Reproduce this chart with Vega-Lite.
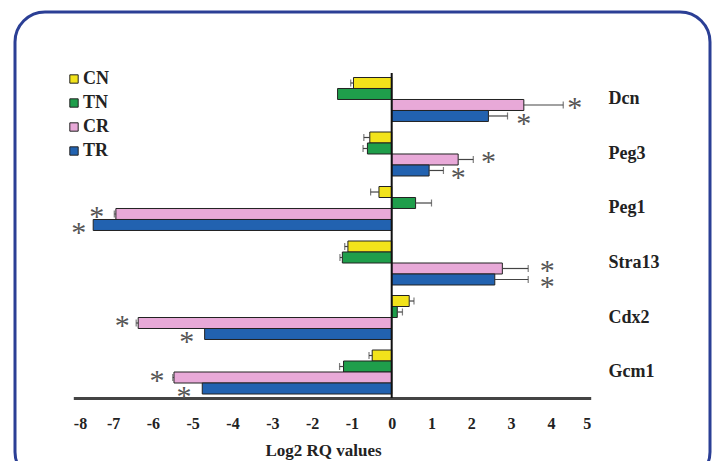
{
  "$schema": "https://vega.github.io/schema/vega-lite/v6.json",
  "width": 695,
  "height": 470,
  "autosize": {"type": "none"},
  "padding": {"left": 15, "top": 12, "right": 6, "bottom": 0},
  "background": "white",
  "config": {
    "view": {"stroke": "#2B3F95", "strokeWidth": 3, "cornerRadius": 30},
    "font": "Liberation Serif"
  },
  "layer": [
    {
      "data": {
        "values": [
          {"gene": "Dcn", "series": "CN", "value": -0.96, "errEnd": -1.03},
          {"gene": "Dcn", "series": "TN", "value": -1.36},
          {"gene": "Dcn", "series": "CR", "value": 3.32, "errEnd": 4.31, "sx": 4.6},
          {"gene": "Dcn", "series": "TR", "value": 2.43, "errEnd": 2.91, "sx": 3.32},
          {"gene": "Peg3", "series": "CN", "value": -0.55, "errEnd": -0.7},
          {"gene": "Peg3", "series": "TN", "value": -0.61, "errEnd": -0.72},
          {"gene": "Peg3", "series": "CR", "value": 1.67, "errEnd": 2.05, "sx": 2.43},
          {"gene": "Peg3", "series": "TR", "value": 0.94, "errEnd": 1.3, "sx": 1.67},
          {"gene": "Peg1", "series": "CN", "value": -0.32, "errEnd": -0.53},
          {"gene": "Peg1", "series": "TN", "value": 0.6, "errEnd": 1.0},
          {"gene": "Peg1", "series": "CR", "value": -6.93, "errEnd": -6.97, "sx": -7.41},
          {"gene": "Peg1", "series": "TR", "value": -7.5, "sx": -7.86},
          {"gene": "Stra13", "series": "CN", "value": -1.1, "errEnd": -1.18},
          {"gene": "Stra13", "series": "TN", "value": -1.24, "errEnd": -1.3},
          {"gene": "Stra13", "series": "CR", "value": 2.78, "errEnd": 3.43, "sx": 3.91},
          {"gene": "Stra13", "series": "TR", "value": 2.59, "errEnd": 3.43, "sx": 3.91},
          {"gene": "Cdx2", "series": "CN", "value": 0.44, "errEnd": 0.56},
          {"gene": "Cdx2", "series": "TN", "value": 0.14, "errEnd": 0.27},
          {"gene": "Cdx2", "series": "CR", "value": -6.37, "errEnd": -6.42, "sx": -6.77},
          {"gene": "Cdx2", "series": "TR", "value": -4.7, "sx": -5.15},
          {"gene": "Gcm1", "series": "CN", "value": -0.49, "errEnd": -0.57},
          {"gene": "Gcm1", "series": "TN", "value": -1.21, "errEnd": -1.31},
          {"gene": "Gcm1", "series": "CR", "value": -5.47, "errEnd": -5.5, "sx": -5.9},
          {"gene": "Gcm1", "series": "TR", "value": -4.76, "sx": -5.22}
        ]
      },
      "encoding": {
        "y": {
          "field": "gene",
          "type": "nominal",
          "sort": ["Dcn", "Peg3", "Peg1", "Stra13", "Cdx2", "Gcm1"],
          "scale": {"range": [65.5, 382], "paddingInner": 0.193, "paddingOuter": 0},
          "axis": {
            "orient": "right",
            "offset": -102,
            "title": null,
            "ticks": false,
            "domain": false,
            "labelPadding": 0,
            "labelAlign": "left",
            "labelFont": "Liberation Serif",
            "labelFontWeight": "bold",
            "labelFontSize": 18,
            "labelColor": "#222"
          }
        },
        "yOffset": {
          "field": "series",
          "type": "nominal",
          "sort": ["CN", "TN", "CR", "TR"],
          "scale": {"paddingInner": 0, "paddingOuter": 0}
        }
      },
      "layer": [
        {
          "mark": {"type": "bar", "stroke": "#222", "strokeWidth": 1},
          "encoding": {
            "x": {
              "field": "value",
              "type": "quantitative",
              "scale": {"domain": [-8, 5], "range": [58.3, 575.7], "nice": false, "zero": false},
              "axis": {
                "orient": "bottom",
                "offset": -84,
                "values": [-8, -7, -6, -5, -4, -3, -2, -1, 0, 1, 2, 3, 4, 5],
                "labelExpr": "'' + datum.value",
                "grid": false,
                "ticks": false,
                "domainColor": "#444",
                "domainWidth": 3,
                "labelPadding": 17,
                "labelFont": "Liberation Serif",
                "labelFontWeight": "bold",
                "labelFontSize": 16,
                "labelColor": "#222",
                "title": "Log2 RQ values",
                "titleFont": "Liberation Serif",
                "titleFontWeight": "bold",
                "titleFontSize": 17,
                "titleColor": "#222",
                "titleX": 308,
                "titleY": 52,
                "titleBaseline": "middle"
              }
            },
            "color": {
              "field": "series",
              "type": "nominal",
              "sort": ["CN", "TN", "CR", "TR"],
              "scale": {"domain": ["CN", "TN", "CR", "TR"], "range": ["#F2E31B", "#1F9E4B", "#E8A9D8", "#2262B0"]},
              "legend": {
                "title": null,
                "orient": "none",
                "legendX": 50,
                "legendY": 58,
                "padding": 0,
                "symbolType": "square",
                "symbolSize": 70,
                "symbolStrokeColor": "#222",
                "symbolStrokeWidth": 1,
                "labelFont": "Liberation Serif",
                "labelFontWeight": "bold",
                "labelFontSize": 18,
                "labelColor": "#222",
                "labelOffset": 0,
                "rowPadding": 6
              }
            }
          }
        },
        {
          "transform": [{"filter": "isValid(datum.errEnd)"}],
          "mark": {"type": "rule", "color": "#444", "strokeWidth": 1.2},
          "encoding": {
            "x": {"field": "value", "type": "quantitative"},
            "x2": {"field": "errEnd"}
          }
        },
        {
          "transform": [{"filter": "isValid(datum.errEnd)"}],
          "mark": {"type": "tick", "orient": "vertical", "color": "#444", "size": 7, "thickness": 1.2},
          "encoding": {
            "x": {"field": "errEnd", "type": "quantitative"}
          }
        },
        {
          "transform": [{"filter": "isValid(datum.sx) && datum.series == 'CR'"}],
          "mark": {"type": "text", "text": "*", "font": "Liberation Serif", "fontSize": 30, "color": "#555", "baseline": "middle", "dy": 3},
          "encoding": {
            "x": {"field": "sx", "type": "quantitative"}
          }
        },
        {
          "transform": [{"filter": "isValid(datum.sx) && datum.series == 'TR'"}],
          "mark": {"type": "text", "text": "*", "font": "Liberation Serif", "fontSize": 30, "color": "#555", "baseline": "middle", "dy": 8},
          "encoding": {
            "x": {"field": "sx", "type": "quantitative"}
          }
        }
      ]
    },
    {
      "data": {"values": [{"z": 0}]},
      "mark": {"type": "rule", "color": "#111", "strokeWidth": 2},
      "encoding": {
        "x": {"datum": 0, "type": "quantitative"},
        "y": {"datum": 0, "type": "quantitative", "scale": {"domain": [0, 1], "range": [61, 386]}, "axis": null},
        "y2": {"datum": 1}
      }
    }
  ],
  "resolve": {"scale": {"y": "independent"}}
}
